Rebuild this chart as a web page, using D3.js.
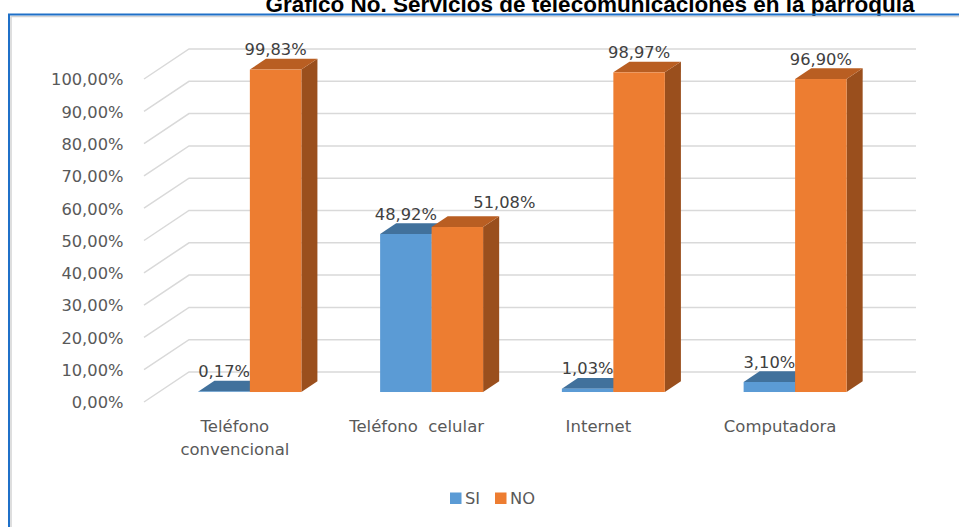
<!DOCTYPE html>
<html>
<head>
<meta charset="utf-8">
<script src="https://cdn.jsdelivr.net/npm/d3@7"></script>
<style>
  html, body { margin: 0; padding: 0; background: #ffffff; }
  svg { display: block; }
</style>
</head>
<body>
<div id="chart"></div>
<script>
// Servicios de telecomunicaciones en la parroquia (SI / NO)
const categories = ["Teléfono convencional", "Teléfono  celular", "Internet", "Computadora"];
const categoryLines = [["Teléfono", "convencional"], ["Teléfono  celular"], ["Internet"], ["Computadora"]];
const seriesNames = ["SI", "NO"];
const siValues = [0.0017, 0.4892, 0.0103, 0.0310];
const noValues = [0.9983, 0.5108, 0.9897, 0.9690];
const yTicks = [0, 0.1, 0.2, 0.3, 0.4, 0.5, 0.6, 0.7, 0.8, 0.9, 1.0];

const W = 959, H = 527;
const colors = {
  SI: { front: "#5B9BD5", top: "#41719C", side: "#3A6690" },
  NO: { front: "#ED7D31", top: "#B95E22", side: "#9A4F1D" }
};

// 3D projection: depth axis runs up and to the right
const DX = 45, DY = -30;
const Z0 = 0.333, Z1 = 0.69;

const svg = d3.select("#chart").append("svg")
  .attr("width", W).attr("height", H);

svg.append("rect").attr("width", W).attr("height", H).attr("fill", "#ffffff");

// Title (sits above the frame, clipped by the top edge)
svg.append("text")
  .attr("x", 590).attr("y", 12)
  .attr("text-anchor", "middle")
  .attr("font-family", "'Liberation Sans', Arial, sans-serif")
  .attr("font-weight", "bold")
  .attr("font-size", 22.5)
  .attr("fill", "#000000")
  .text("Gráfico No. Servicios de telecomunicaciones en la parroquia");

// Frame
svg.append("path")
  .attr("d", "M11,530 L11,16.5 L962,16.5")
  .attr("fill", "none").attr("stroke", "#d4d4d4").attr("stroke-width", 1.5);
svg.append("path")
  .attr("d", "M9,530 L9,14.5 L962,14.5")
  .attr("fill", "none").attr("stroke", "#1F70C8").attr("stroke-width", 2);

const x0 = d3.scaleBand().domain(categories).range([144, 871]).paddingInner(0).paddingOuter(0);
const x1 = d3.scaleBand().domain(seriesNames).range([0, x0.bandwidth()]).paddingInner(0).paddingOuter(0.765);
const y = d3.scaleLinear().domain([0, 1]).range([402, 79]);

const pctFmt = d3.formatLocale({ decimal: ",", thousands: ".", grouping: [3], currency: ["", ""] }).format(".2f");
const fmt = v => pctFmt(v * 100) + "%";

// Gridlines: side wall diagonal + back wall horizontal
const grid = svg.append("g");
yTicks.forEach(t => {
  const yf = y(t);
  grid.append("path")
    .attr("d", `M${144},${yf} L${144 + DX},${yf + DY} L916,${yf + DY}`)
    .attr("fill", "none").attr("stroke", "#d9d9d9").attr("stroke-width", 1.5);
});

// Y axis labels
const yAxis = d3.axisLeft(y).tickValues(yTicks).tickFormat(fmt).tickSize(0).tickPadding(0);
const yg = svg.append("g").attr("transform", "translate(123.5,0)").call(yAxis);
yg.select(".domain").remove();
yg.selectAll("text")
  .attr("font-family", "'DejaVu Sans', sans-serif")
  .attr("font-size", 16.3)
  .attr("fill", "#595959")
  .attr("dy", "0.36em");

// Bars
const data = [];
categories.forEach((c, i) => {
  data.push({ cat: c, s: "SI", v: siValues[i] });
  data.push({ cat: c, s: "NO", v: noValues[i] });
});

const bars = svg.append("g");
data.forEach(d => {
  const bx = x0(d.cat) + x1(d.s);
  const bw = x1.bandwidth();
  const fx0 = bx + Z0 * DX, fx1 = fx0 + bw;
  const fyB = y(0) + Z0 * DY, fyT = y(d.v) + Z0 * DY;
  const ddx = (Z1 - Z0) * DX, ddy = (Z1 - Z0) * DY;
  const c = colors[d.s];
  // side face
  bars.append("path")
    .attr("d", `M${fx1},${fyB} L${fx1 + ddx},${fyB + ddy} L${fx1 + ddx},${fyT + ddy} L${fx1},${fyT} Z`)
    .attr("fill", c.side);
  // top face
  bars.append("path")
    .attr("d", `M${fx0},${fyT} L${fx1},${fyT} L${fx1 + ddx},${fyT + ddy} L${fx0 + ddx},${fyT + ddy} Z`)
    .attr("fill", c.top);
  // front face
  bars.append("rect")
    .attr("x", fx0).attr("y", fyT)
    .attr("width", bw).attr("height", Math.max(0, fyB - fyT))
    .attr("fill", c.front);
  d.labelX = fx0 + bw / 2;
  d.labelY = fyT + ddy - 9.5;
});

// Data labels; a label that would collide with its neighbour is pushed right and up
const labels = svg.append("g");
data.forEach((d, i) => {
  let lx = d.labelX, ly = d.labelY;
  if (d.s === "NO") {
    const prev = data[i - 1];
    if (Math.abs(prev.labelY - ly) < 18) { lx += 47; ly -= 5; }
  }
  labels.append("text")
    .attr("x", lx).attr("y", ly)
    .attr("dy", "0.36em")
    .attr("text-anchor", "middle")
    .attr("font-family", "'DejaVu Sans', sans-serif")
    .attr("font-size", 16.3)
    .attr("fill", "#404040")
    .text(fmt(d.v));
});

// Category labels
const catG = svg.append("g");
categories.forEach((c, i) => {
  const cx = x0(c) + x0.bandwidth() / 2;
  categoryLines[i].forEach((line, j) => {
    catG.append("text")
      .attr("x", cx).attr("y", 426 + j * 23)
      .attr("dy", "0.36em")
      .attr("text-anchor", "middle")
      .attr("font-family", "'DejaVu Sans', sans-serif")
      .attr("font-size", 16.5)
      .attr("fill", "#595959")
      .style("white-space", "pre")
      .attr("xml:space", "preserve")
      .text(line);
  });
});

// Legend
const legend = svg.append("g");
const legendItems = [{ s: "SI", x: 450 }, { s: "NO", x: 495 }];
legendItems.forEach(it => {
  legend.append("rect")
    .attr("x", it.x).attr("y", 492.5).attr("width", 11.5).attr("height", 11.5)
    .attr("fill", colors[it.s].front);
  legend.append("text")
    .attr("x", it.x + 15).attr("y", 498.5).attr("dy", "0.36em")
    .attr("font-family", "'DejaVu Sans', sans-serif")
    .attr("font-size", 16.3)
    .attr("fill", "#595959")
    .text(it.s);
});
</script>
</body>
</html>
